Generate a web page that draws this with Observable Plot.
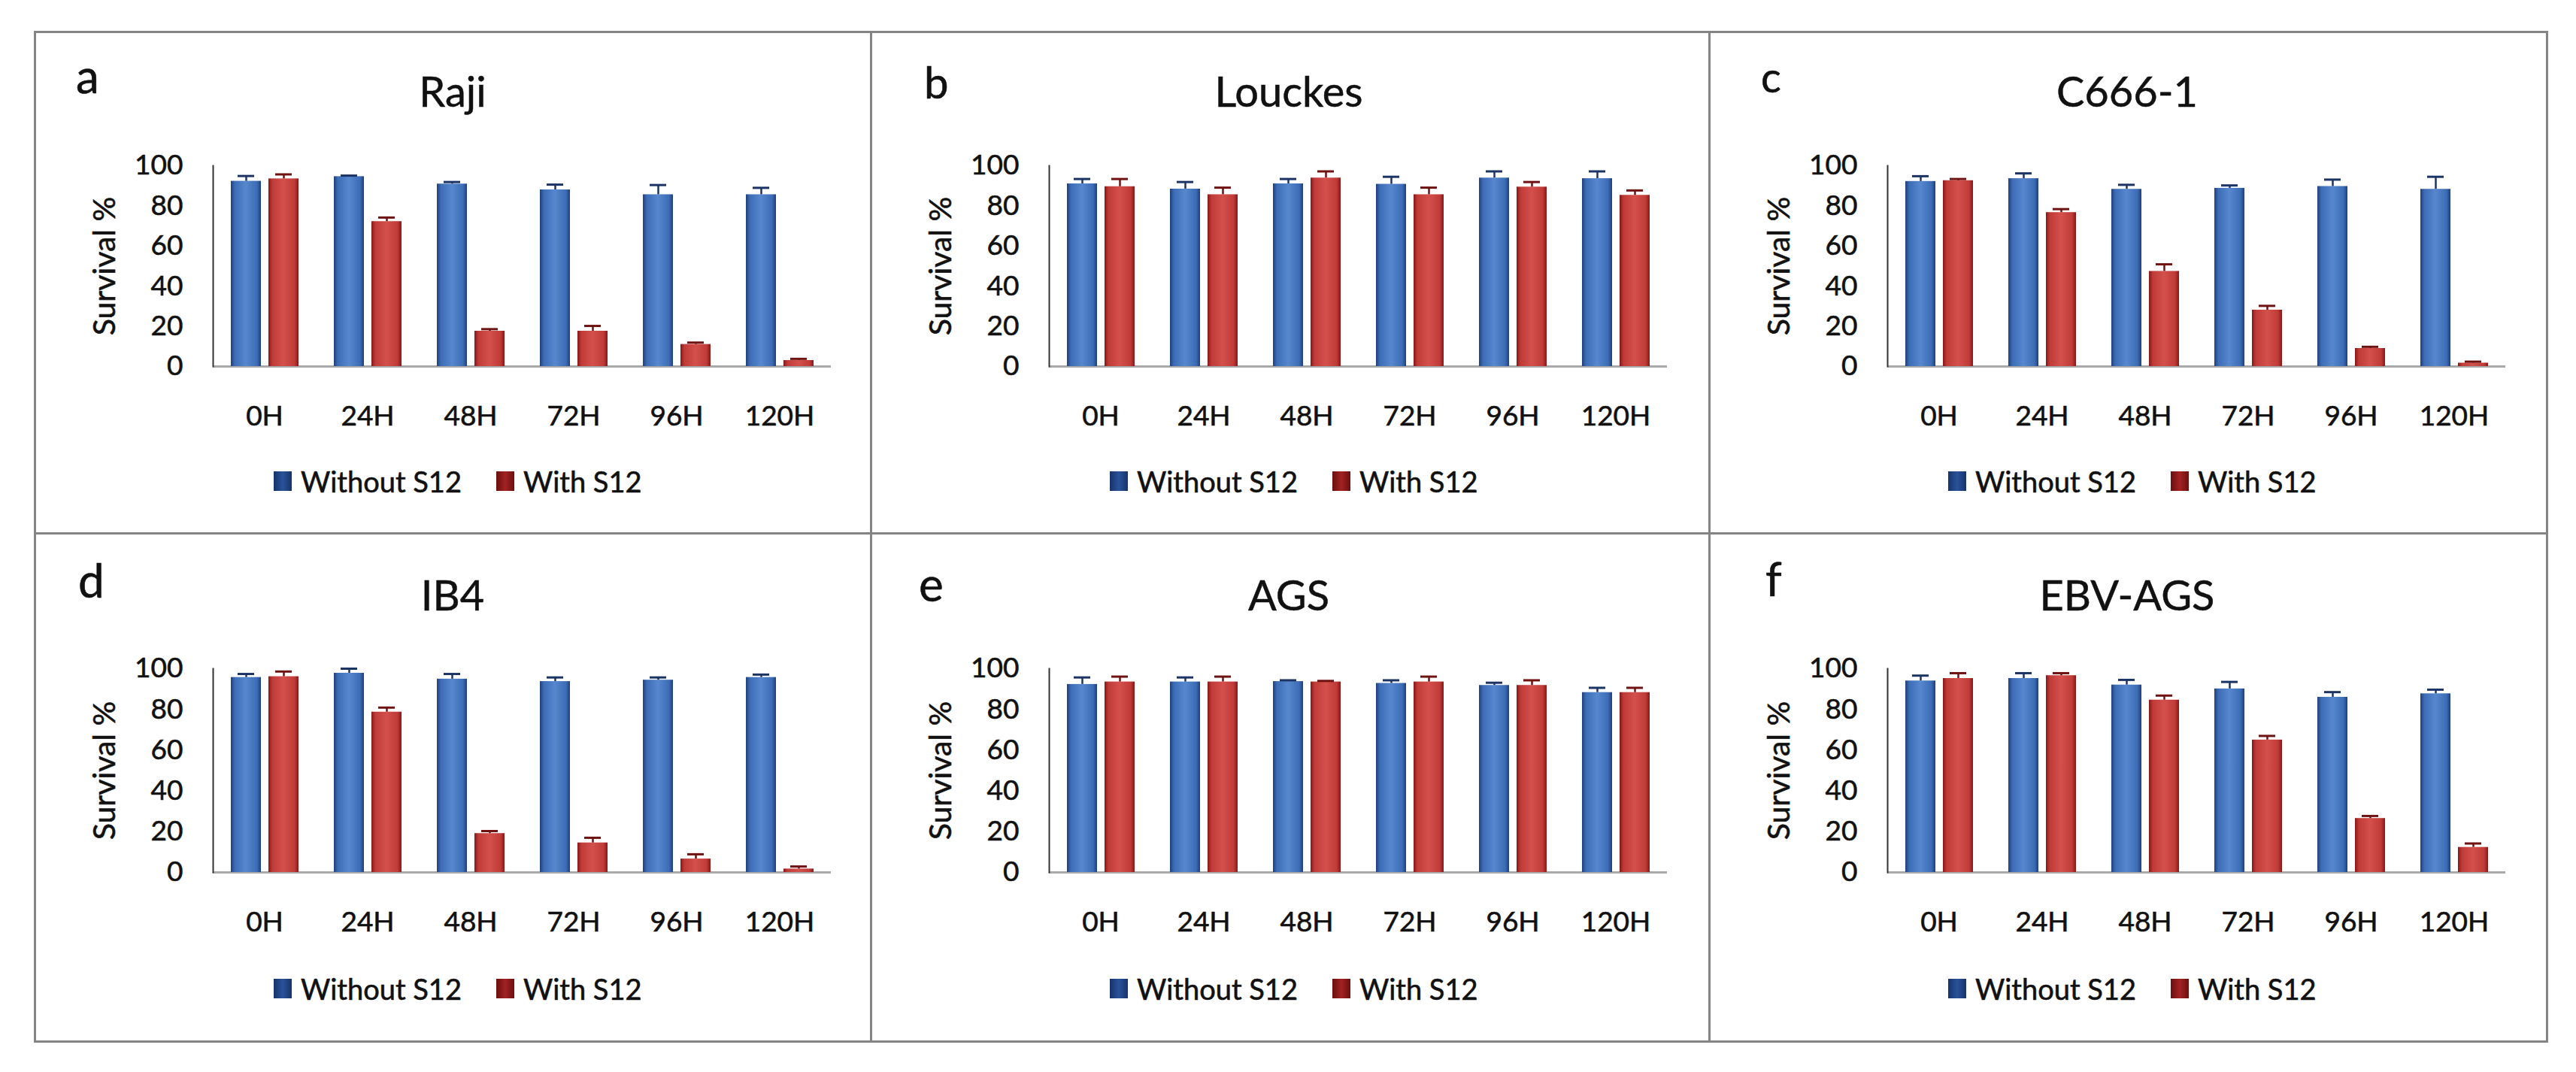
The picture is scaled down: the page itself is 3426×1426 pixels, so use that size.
<!DOCTYPE html>
<html>
<head>
<meta charset="utf-8">
<script src="https://cdn.jsdelivr.net/npm/d3@7"></script>
<script src="https://cdn.jsdelivr.net/npm/@observablehq/plot@0.6"></script>
<style>
  html, body { margin: 0; padding: 0; background: #fff; }
  body { width: 3426px; height: 1426px; position: relative; overflow: hidden; font-family: Lato, "Open Sans", sans-serif; color: #111; }
  .panel { position: absolute; }
  .hline, .vline { position: absolute; background: #848484; }
  .letter { position: absolute; line-height: 1; white-space: nowrap; -webkit-text-stroke: 0.6px #111; }
  .title { position: absolute; line-height: 1; white-space: nowrap; transform: translateX(-50%); -webkit-text-stroke: 0.5px #111; }
  .plotwrap { position: absolute; left: 0; }
  .plotwrap svg text { stroke: #111; stroke-width: 0.6px; }
  .legend { position: absolute; display: flex; align-items: center; height: 40px; font-size: 38px; white-space: nowrap; -webkit-text-stroke: 0.6px #111; }
  .sw { width: 24px; height: 26px; display: inline-block; margin-right: 12px; -webkit-text-stroke: 0; }
  .item { display: flex; align-items: center; }
</style>
</head>
<body>
<svg width="0" height="0" style="position:absolute">
  <defs>
    <linearGradient id="gradBlue" x1="0" x2="1" y1="0" y2="0">
      <stop offset="0" stop-color="#1f3f7a"/>
      <stop offset="0.13" stop-color="#3c6cb5"/>
      <stop offset="0.5" stop-color="#5787cd"/>
      <stop offset="0.87" stop-color="#3c6cb5"/>
      <stop offset="1" stop-color="#1f3f7a"/>
    </linearGradient>
    <linearGradient id="gradRed" x1="0" x2="1" y1="0" y2="0">
      <stop offset="0" stop-color="#861716"/>
      <stop offset="0.13" stop-color="#bf3b38"/>
      <stop offset="0.5" stop-color="#d4504c"/>
      <stop offset="0.87" stop-color="#bf3b38"/>
      <stop offset="1" stop-color="#861716"/>
    </linearGradient>
  </defs>
</svg>
<script>
// ---------- data ----------
const times = ["0H", "24H", "48H", "72H", "96H", "120H"];
const series = ["Without S12", "With S12"];
const panelLetters = ["a", "b", "c", "d", "e", "f"];
const panelTitles = ["Raji", "Louckes", "C666-1", "IB4", "AGS", "EBV-AGS"];
const yTicks = [0, 20, 40, 60, 80, 100];

const rajiWithout    = [92.3, 94.6, 90.9, 88.0, 85.6, 85.6];
const rajiWithoutErr = [2.6, 0.5, 1.0, 2.6, 4.8, 3.4];
const rajiWith       = [93.5, 72.2, 17.6, 17.6, 11.0, 3.0];
const rajiWithErr    = [2.2, 2.0, 1.0, 2.6, 0.9, 0.8];

const louckesWithout    = [91.0, 88.4, 91.0, 90.8, 93.9, 93.6];
const louckesWithoutErr = [2.4, 3.5, 2.4, 3.7, 3.3, 3.6];
const louckesWith       = [89.6, 85.6, 93.9, 85.6, 89.4, 85.3];
const louckesWithErr    = [3.8, 3.5, 3.3, 3.5, 2.5, 2.4];

const c666Without    = [92.2, 93.6, 88.3, 88.8, 89.7, 88.3];
const c666WithoutErr = [2.6, 2.6, 2.2, 1.4, 3.4, 6.2];
const c666With       = [92.6, 76.7, 47.4, 28.1, 9.0, 1.7];
const c666WithErr    = [0.8, 1.7, 3.5, 2.1, 0.8, 0.7];

const ib4Without    = [95.7, 97.8, 94.9, 93.7, 94.4, 95.7];
const ib4WithoutErr = [1.7, 2.2, 2.5, 2.0, 1.3, 1.4];
const ib4With       = [96.1, 78.7, 19.1, 14.5, 6.6, 1.7];
const ib4WithErr    = [2.5, 2.2, 1.2, 2.5, 2.3, 1.2];

const agsWithout    = [92.3, 93.5, 93.7, 92.8, 91.8, 88.3];
const agsWithoutErr = [3.4, 2.2, 0.6, 1.5, 1.3, 2.3];
const agsWith       = [93.5, 93.5, 93.5, 93.5, 91.8, 88.3];
const agsWithErr    = [2.6, 2.6, 0.5, 2.6, 2.5, 2.3];

const ebvAgsWithout    = [94.0, 95.2, 92.0, 90.1, 86.0, 87.7];
const ebvAgsWithoutErr = [2.6, 2.6, 2.5, 3.4, 2.5, 2.0];
const ebvAgsWith       = [95.2, 96.6, 84.6, 65.0, 26.5, 12.3];
const ebvAgsWithErr    = [2.6, 1.2, 2.2, 2.0, 1.2, 1.9];

const panelData = [
  [rajiWithout, rajiWithoutErr, rajiWith, rajiWithErr],
  [louckesWithout, louckesWithoutErr, louckesWith, louckesWithErr],
  [c666Without, c666WithoutErr, c666With, c666WithErr],
  [ib4Without, ib4WithoutErr, ib4With, ib4WithErr],
  [agsWithout, agsWithoutErr, agsWith, agsWithErr],
  [ebvAgsWithout, ebvAgsWithoutErr, ebvAgsWith, ebvAgsWithErr]
];

// ---------- layout ----------
const cols = [{x: 46, w: 1112}, {x: 1158, w: 1115}, {x: 2273, w: 1114}];
const rowsL = [
  {y: 42, h: 667, titleBase: 101, mt: 38, mb: 95, legendCy: 598},
  {y: 709, h: 676, titleBase: 104, mt: 40, mb: 89, legendCy: 606}
];
const letterStyle = [
  {left: 55, base: 82, size: 62},
  {left: 71, base: 89, size: 58},
  {left: 69, base: 82, size: 56},
  {left: 58, base: 86, size: 62},
  {left: 64, base: 91, size: 62},
  {left: 75, base: 84, size: 62}
];
const ASC = 0.887; // baseline offset for line-height 1 (Lato)

// grid lines
function line(cls, x, y, w, h) {
  const d = document.createElement("div");
  d.className = cls;
  Object.assign(d.style, {left: x + "px", top: y + "px", width: w + "px", height: h + "px"});
  document.body.appendChild(d);
}
const gx = [46, 1158, 2273, 3387], gy = [42, 709, 1385];
gy.forEach(y => line("hline", 45, y - 1, 3387 - 45 + 2, 3));
gx.forEach(x => line("vline", x - 1, 41, 3, 1385 - 41 + 2));

panelTitles.forEach((title, i) => {
  const c = cols[i % 3], r = rowsL[Math.floor(i / 3)];
  const panel = document.createElement("div");
  panel.className = "panel";
  Object.assign(panel.style, {left: c.x + "px", top: r.y + "px", width: c.w + "px", height: r.h + "px"});
  document.body.appendChild(panel);

  const ls = letterStyle[i];
  const L = document.createElement("div");
  L.className = "letter";
  L.textContent = panelLetters[i];
  Object.assign(L.style, {left: ls.left + "px", top: (ls.base - ASC * ls.size) + "px", fontSize: ls.size + "px"});
  panel.appendChild(L);

  const tsize = 56;
  const T = document.createElement("div");
  T.className = "title";
  T.textContent = title;
  Object.assign(T.style, {left: "556px", top: (r.titleBase - ASC * tsize) + "px", fontSize: tsize + "px"});
  panel.appendChild(T);

  const [wo, woE, wi, wiE] = panelData[i];
  const rowsWithout = times.map((t, k) => ({time: t, series: series[0], value: wo[k], err: woE[k]}));
  const rowsWith = times.map((t, k) => ({time: t, series: series[1], value: wi[k], err: wiE[k]}));

  const svgTop = 140, H = 400;
  const chart = Plot.plot({
    width: c.w,
    height: H,
    marginLeft: 235,
    marginRight: c.w - 1060,
    marginTop: r.mt,
    marginBottom: r.mb,
    style: {fontFamily: "Lato, 'Open Sans', sans-serif", background: "transparent", color: "#111", overflow: "visible"},
    fx: {domain: times, padding: 0},
    x: {domain: series, paddingInner: 0.2, paddingOuter: 0.45, axis: null},
    y: {domain: [0, 100]},
    marks: [
      Plot.ruleY([0], {stroke: "#a9a9a9", strokeWidth: 3}),
      Plot.barY(rowsWithout, {fx: "time", x: "series", y: "value", fill: "url(#gradBlue)"}),
      Plot.barY(rowsWith, {fx: "time", x: "series", y: "value", fill: "url(#gradRed)"}),
      Plot.ruleX(rowsWithout, {fx: "time", x: "series", y1: "value", y2: d => d.value + d.err, stroke: "#1c3463", strokeWidth: 2.5}),
      Plot.tickY(rowsWithout, {fx: "time", x: "series", y: d => d.value + d.err, stroke: "#1c3463", strokeWidth: 3, insetLeft: 9, insetRight: 9}),
      Plot.ruleX(rowsWith, {fx: "time", x: "series", y1: "value", y2: d => d.value + d.err, stroke: "#6e1212", strokeWidth: 2.5}),
      Plot.tickY(rowsWith, {fx: "time", x: "series", y: d => d.value + d.err, stroke: "#6e1212", strokeWidth: 3, insetLeft: 9, insetRight: 9}),
      Plot.frame({anchor: "left", facetAnchor: "left", stroke: "#333", strokeWidth: 2}),
      Plot.axisY({ticks: yTicks, tickSize: 0, tickPadding: 40, fontSize: 37, label: null}),
      Plot.axisY({ticks: yTicks, tickSize: 0, tickFormat: () => "", fontSize: 41, label: "Survival %", labelAnchor: "center", labelOffset: 160, labelArrow: "none"}),
      Plot.axisFx({anchor: "bottom", tickSize: 0, tickPadding: 52, fontSize: 37, label: null})
    ]
  });
  const wrap = document.createElement("div");
  wrap.className = "plotwrap";
  wrap.style.top = svgTop + "px";
  wrap.appendChild(chart);
  panel.appendChild(wrap);

  const lg = document.createElement("div");
  lg.className = "legend";
  Object.assign(lg.style, {left: "318px", top: (r.legendCy - 20) + "px"});
  lg.innerHTML =
    '<span class="item"><span class="sw" style="background:linear-gradient(90deg,#16336a,#2a5399,#16336a)"></span>' + series[0] + '</span>' +
    '<span class="item" style="margin-left:46px"><span class="sw" style="background:linear-gradient(90deg,#6a0f0f,#a32222,#6a0f0f)"></span>' + series[1] + '</span>';
  panel.appendChild(lg);
});
</script>
</body>
</html>
